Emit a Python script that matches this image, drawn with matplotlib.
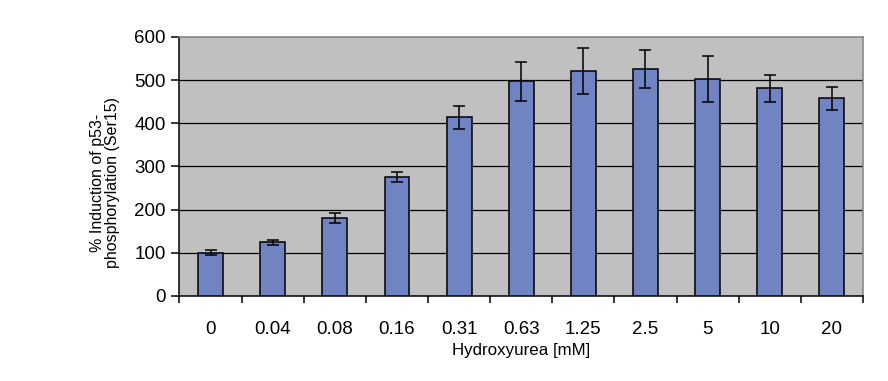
import numpy as np
import matplotlib
matplotlib.use("Agg")
import matplotlib.pyplot as plt

concentraciones = ["0", "0.04", "0.08", "0.16", "0.31", "0.63", "1.25", "2.5", "5", "10", "20"]
induccion = [100, 124, 180, 275, 414, 497, 521, 525, 503, 481, 458]
error = [6, 6, 12, 12, 27, 45, 54, 44, 53, 32, 27]

plt.rcParams['font.family'] = ['Liberation Sans', 'DejaVu Sans']

fig = plt.figure(figsize=(8.88, 3.81), dpi=100)
ax = fig.add_axes([0.2021, 0.2231, 0.7697, 0.6798])
ax.set_facecolor('#C0C0C0')

x = np.arange(len(concentraciones))
ax.bar(x, induccion, width=0.4, color='#7084C4', edgecolor='black', linewidth=1.1, zorder=3)
ax.errorbar(x, induccion, yerr=error, fmt='none', ecolor='black', elinewidth=1.1,
            capsize=4.3, capthick=1.1, zorder=4)

ax.set_xlim(-0.5, len(concentraciones) - 0.5)
ax.set_ylim(0, 600)
ax.set_yticks(np.arange(0, 601, 100))
for yv in range(100, 600, 100):
    ax.axhline(yv, color='black', linewidth=0.9, zorder=1)

ax.set_xticks(x)
ax.set_xticklabels(concentraciones, fontsize=13.5)
ax.set_xticks(np.arange(-0.5, len(concentraciones), 1), minor=True)
ax.tick_params(axis='x', which='major', length=0, pad=18)
ax.tick_params(axis='x', which='minor', length=5, width=1.1, direction='out')
ax.tick_params(axis='y', labelsize=13.5, length=6, width=1.1, direction='out', pad=4)

for lado in ['top', 'right']:
    ax.spines[lado].set_color('#808080')
    ax.spines[lado].set_linewidth(1.1)
for lado in ['left', 'bottom']:
    ax.spines[lado].set_color('black')
    ax.spines[lado].set_linewidth(1.1)

fig.text(0.5867, 0.079, "Hydroxyurea [mM]", fontsize=12.2, ha='center', va='center')
fig.text(0.1182, 0.52, "% Induction of p53-\nphosphorylation (Ser15)", fontsize=11.5,
         ha='center', va='center', rotation=90, linespacing=1.05)

fig.savefig("out.png", dpi=100)
